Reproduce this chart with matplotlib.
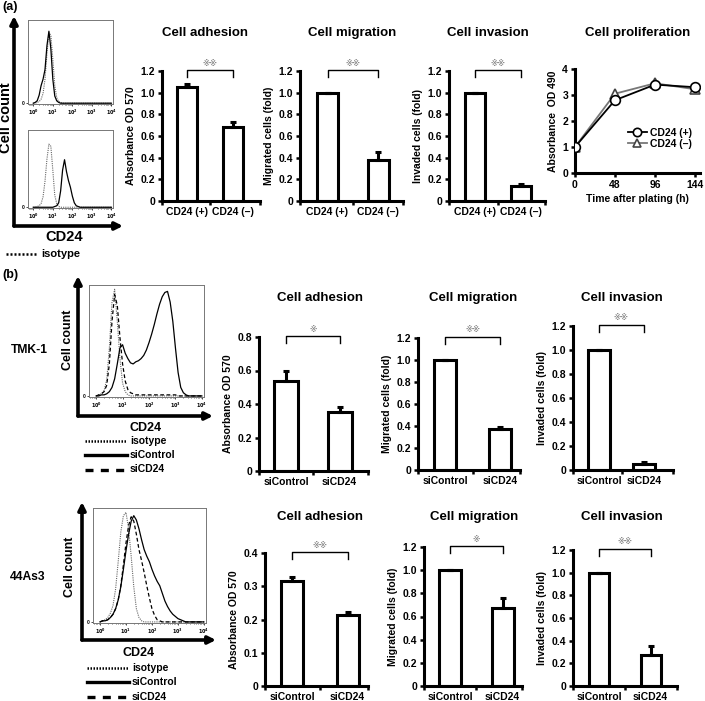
import numpy as np
import matplotlib
matplotlib.use('Agg')
import matplotlib.pyplot as plt

plt.rcParams['font.family'] = ['Liberation Sans', 'DejaVu Sans']
plt.rcParams['font.weight'] = 'bold'
plt.rcParams['axes.labelweight'] = 'bold'

# ---------------- data ----------------
# flow cytometry histograms (x = log10 fluorescence, 0..4 step 0.1)
logx = np.round(np.arange(0, 4.01, 0.1), 1)
a_neg_iso = [0, 0, 1, 2, 5, 12, 30, 62, 88, 85, 55, 22, 7, 2, 1] + [0] * 26
a_neg_cd24 = [0, 1, 3, 10, 22, 30, 42, 72, 90, 68, 30, 9, 3, 1, 0] + [0] * 26
a_pos_iso = [0, 0, 1, 2, 5, 14, 35, 65, 85, 82, 50, 16, 5, 1, 0] + [0] * 26
a_pos_cd24 = [0] * 11 + [1, 2, 6, 22, 50, 64, 48, 36, 27, 15, 6, 2, 1] + [0] * 17

tmk_iso = [0, 1, 2, 5, 15, 45, 88, 100, 70, 35, 12, 4, 1] + [0] * 28
tmk_sicd24 = [0, 1, 2, 4, 10, 30, 70, 95, 85, 55, 30, 14, 6, 3, 2] + [1] * 16 + [0] * 10
tmk_sictrl = [0, 0, 1, 1, 2, 4, 8, 16, 30, 45, 48, 40, 35, 31, 30, 32, 33, 35, 38, 43,
              50, 58, 67, 77, 86, 93, 97, 98, 88, 70, 45, 22, 8, 3, 1] + [0] * 6

as3_iso = [0, 1, 2, 4, 8, 15, 30, 55, 82, 97, 100, 85, 60, 32, 12, 4, 1] + [0] * 24
as3_sictrl = [0, 1, 1, 2, 4, 7, 12, 20, 32, 48, 65, 80, 92, 97, 93, 85, 75, 66, 60, 55,
              48, 42, 37, 33, 26, 19, 14, 10, 7, 5, 3, 2, 1] + [0] * 8
as3_sicd24 = [0, 1, 1, 2, 4, 7, 12, 20, 33, 52, 72, 88, 96, 92, 80, 66, 56, 45, 33, 22,
              12, 6, 2, 1] + [0] * 17

flow_ticks = ['$10^0$', '$10^1$', '$10^2$', '$10^3$', '$10^4$']

# bar charts
cats_a = ['CD24 (+)', 'CD24 (\u2013)']
cats_b = ['siControl', 'siCD24']

a_adh = [1.05, 0.68];   a_adh_err = [0.03, 0.05]
a_mig = [1.00, 0.38];   a_mig_err = [0.0, 0.07]
a_inv = [1.00, 0.14];   a_inv_err = [0.0, 0.015]

tmk_adh = [0.54, 0.355]; tmk_adh_err = [0.06, 0.025]
tmk_mig = [1.00, 0.37];  tmk_mig_err = [0.0, 0.02]
tmk_inv = [1.00, 0.05];  tmk_inv_err = [0.0, 0.02]

as3_adh = [0.315, 0.213]; as3_adh_err = [0.012, 0.01]
as3_mig = [1.00, 0.67];   as3_mig_err = [0.0, 0.09]
as3_inv = [1.00, 0.27];   as3_inv_err = [0.0, 0.08]

# proliferation
times = [0, 48, 96, 144]
prol_pos = [1.0, 2.8, 3.4, 3.3]
prol_neg = [1.0, 3.05, 3.45, 3.22]

# ---------------- layout helpers ----------------
W, H = 705, 701
fig = plt.figure(figsize=(W / 100, H / 100), dpi=100)


def ax_px(l, t, r, b):
    return fig.add_axes([l / W, 1 - b / H, (r - l) / W, (b - t) / H])


ov = ax_px(0, 0, W, H)
ov.set_xlim(0, W)
ov.set_ylim(H, 0)
ov.axis('off')


def txt(x, y, s, size, **kw):
    ov.text(x, y, s, fontsize=size, fontweight='bold', ha=kw.pop('ha', 'center'),
            va=kw.pop('va', 'center'), **kw)


def arrow(x0, y0, x1, y1):
    ov.annotate('', xy=(x1, y1), xytext=(x0, y0),
                arrowprops=dict(arrowstyle='-|>', lw=2.6, color='black',
                                mutation_scale=11, shrinkA=0, shrinkB=0))


def flow(box, curves):
    ax = ax_px(*box)
    xs = 10.0 ** logx
    for y, ls, col, lw in curves:
        ax.plot(xs, y, ls=ls, color=col, lw=lw)
    ax.set_xscale('log')
    ax.set_xlim(10 ** -0.27, 10 ** 4.08)
    ax.set_ylim(-1, 104)
    ax.set_xticks([1, 10, 100, 1000, 10000])
    ax.set_xticklabels(flow_ticks)
    ax.set_yticks([0])
    ax.set_yticklabels(['0'])
    ax.tick_params(labelsize=3.5, length=1.5, width=0.5, pad=1)
    ax.tick_params(which='minor', length=1, width=0.4)
    for s in ax.spines.values():
        s.set_linewidth(0.7)
        s.set_color('#777777')
    return ax


def bar_panel(box, centers, barw, vals, errs, cats, ymax, yticks, ylabel, sig, title, tx, ty):
    l, t, r, b = box
    ax = ax_px(l, t, r, b)
    c1, c2 = centers
    u = c2 - c1
    x0, x1 = -(c1 - l) / u, (r - c1) / u
    ax.set_xlim(x0, x1)
    ax.set_ylim(0, ymax)
    x = np.arange(len(vals))
    ax.bar(x, vals, width=barw / u, color='white', edgecolor='black', linewidth=2.2, zorder=2)
    ax.errorbar(x, vals, yerr=[np.zeros(len(vals)), errs], fmt='none', ecolor='black',
                elinewidth=2.2, capsize=2.5, capthick=2.2, zorder=3)
    for s in ['top', 'right']:
        ax.spines[s].set_visible(False)
    for s in ['left', 'bottom']:
        ax.spines[s].set_linewidth(2.2)
    ax.set_yticks(yticks)
    ax.set_yticklabels(['0' if v == 0 else f'{v:.1f}' for v in yticks])
    ax.set_xticks(x)
    ax.set_xticklabels(cats)
    ax.set_xticks([x0, 0.5, x1], minor=True)
    ax.tick_params(axis='x', which='major', length=0, labelsize=7.5, pad=4)
    ax.tick_params(axis='x', which='minor', length=3, width=1.8, direction='out')
    ax.tick_params(axis='y', length=3, width=1.8, labelsize=7.5, pad=2)
    ax.set_ylabel(ylabel, fontsize=7.5, labelpad=3)
    # significance bracket
    hpx = b - t
    tr = ax.get_xaxis_transform()
    ytop = 1 + 1.0 / hpx
    yleg = ytop - 7.0 / hpx
    ax.plot([0, 0, 1, 1], [yleg, ytop, ytop, yleg], color='black', lw=1.0,
            transform=tr, clip_on=False)
    ax.text(0.5, ytop + 7.0 / hpx, sig, transform=tr, ha='center', va='center',
            fontsize=5.5, color='#888888', family='DejaVu Sans')
    txt(tx, ty, title, 9.5)
    return ax


# ---------------- panel (a) ----------------
txt(2, 7, '(a)', 9, ha='left')
arrow(14, 226, 14, 16)
arrow(14, 226, 123, 226)
txt(6, 118, 'Cell count', 10.5, rotation=90)
txt(64, 237, 'CD24', 10.5)
ov.plot([6, 38], [254, 254], color='black', lw=1.8, ls=(0, (0.8, 0.8)))
txt(41, 254, 'isotype', 8, ha='left')

flow((28, 20, 113, 104), [(a_neg_iso, (0, (1, 1)), '#666666', 0.8),
                          (a_neg_cd24, '-', 'black', 0.9)])
flow((28, 130, 113, 208), [(a_pos_iso, (0, (1, 1)), '#666666', 0.8),
                           (a_pos_cd24, '-', 'black', 0.9)])
txt(110, 30, 'CD24 (\u2013)', 8, ha='right')
txt(110, 141, 'CD24 (+)', 8, ha='right')

SIG2 = '\u203b\u203b'
SIG1 = '\u203b'
bar_panel((162, 71, 260, 201), (187, 233), 20, a_adh, a_adh_err, cats_a, 1.2,
          [0, 0.2, 0.4, 0.6, 0.8, 1.0, 1.2], 'Absorbance OD 570', SIG2, 'Cell adhesion', 205, 33)
bar_panel((300, 71, 403, 201), (327.5, 378), 21, a_mig, a_mig_err, cats_a, 1.2,
          [0, 0.2, 0.4, 0.6, 0.8, 1.0, 1.2], 'Migrated cells (fold)', SIG2, 'Cell migration', 352, 33)
bar_panel((449, 71, 545, 201), (475, 521), 20, a_inv, a_inv_err, cats_a, 1.2,
          [0, 0.2, 0.4, 0.6, 0.8, 1.0, 1.2], 'Invaded cells (fold)', SIG2, 'Cell invasion', 488, 33)

# proliferation
pax = ax_px(575, 69, 700, 173)
pax.plot(times, prol_pos, color='black', lw=1.3, marker='o', ms=7, mfc='white',
         mec='black', mew=1.2, label='CD24 (+)', zorder=3)
pax.plot(times, prol_neg, color='#777777', lw=1.3, marker='^', ms=7, mfc='white',
         mec='#444444', mew=1.2, label='CD24 (\u2013)', zorder=2)
pax.set_xlim(0, 150)
pax.set_ylim(0, 4)
pax.set_xticks(times)
pax.set_yticks([0, 1, 2, 3, 4])
for s in ['top', 'right']:
    pax.spines[s].set_visible(False)
for s in ['left', 'bottom']:
    pax.spines[s].set_linewidth(2.2)
pax.tick_params(length=3, width=1.8, labelsize=7.5, pad=2)
pax.set_ylabel('Absorbance  OD 490', fontsize=7.5, labelpad=3)
pax.set_xlabel('Time after plating (h)', fontsize=7.5, labelpad=3)
leg = pax.legend(loc='upper left', bbox_to_anchor=((628 - 575) / 125, (173 - 128) / 104),
                 frameon=False, fontsize=7.5, handlelength=1.8, handletextpad=0.3,
                 labelspacing=0.1, borderpad=0, borderaxespad=0)
for lh in leg.legend_handles:
    lh.set_markersize(6)
txt(638, 33, 'Cell proliferation', 9.5)

# ---------------- panel (b) ----------------
txt(2, 275, '(b)', 9, ha='left')


def flow_legend(x0, y0):
    ov.plot([x0, x0 + 42], [y0, y0], color='black', lw=1.8, ls=(0, (0.6, 0.6)))
    ov.plot([x0, x0 + 42], [y0 + 14, y0 + 14], color='black', lw=2.4, ls='-')
    ov.plot([x0, x0 + 42], [y0 + 28.5, y0 + 28.5], color='black', lw=2.4, ls=(0, (2.4, 2.2)))
    txt(x0 + 45, y0, 'isotype', 7.5, ha='left')
    txt(x0 + 45, y0 + 14, 'siControl', 7.5, ha='left')
    txt(x0 + 45, y0 + 28.5, 'siCD24', 7.5, ha='left')


# TMK-1 row
txt(29, 350, 'TMK-1', 8.7)
arrow(78, 416, 78, 276)
arrow(78, 416, 213, 416)
txt(68, 340, 'Cell count', 9, rotation=90)
txt(146, 428, 'CD24', 9)
flow((89, 285, 204, 397), [(tmk_iso, (0, (1, 1)), '#666666', 0.8),
                           (tmk_sicd24, (0, (3, 2)), 'black', 0.9),
                           (tmk_sictrl, '-', 'black', 0.9)])
flow_legend(85, 441)

bar_panel((259, 337, 368, 471), (286, 339.5), 24, tmk_adh, tmk_adh_err, cats_b, 0.8,
          [0, 0.2, 0.4, 0.6, 0.8], 'Absorbance OD 570', SIG1, 'Cell adhesion', 320, 298)
bar_panel((418, 338, 520, 470), (445, 500), 22, tmk_mig, tmk_mig_err, cats_b, 1.2,
          [0, 0.2, 0.4, 0.6, 0.8, 1.0, 1.2], 'Migrated cells (fold)', SIG2, 'Cell migration', 473, 298)
bar_panel((573, 326, 673, 470), (599, 644), 22, tmk_inv, tmk_inv_err, cats_b, 1.2,
          [0, 0.2, 0.4, 0.6, 0.8, 1.0, 1.2], 'Invaded cells (fold)', SIG2, 'Cell invasion', 622, 298)

# 44As3 row
txt(28, 577, '44As3', 8.7)
arrow(82, 640, 82, 502)
arrow(82, 640, 216, 640)
txt(70, 567, 'Cell count', 9, rotation=90)
txt(139, 653, 'CD24', 9)
flow((93, 508, 206, 623), [(as3_iso, (0, (1, 1)), '#666666', 0.8),
                           (as3_sicd24, (0, (3, 2)), 'black', 0.9),
                           (as3_sictrl, '-', 'black', 0.9)])
flow_legend(87, 668)

bar_panel((265, 553, 368, 686), (292, 347.5), 22, as3_adh, as3_adh_err, cats_b, 0.4,
          [0, 0.1, 0.2, 0.3, 0.4], 'Absorbance OD 570', SIG2, 'Cell adhesion', 320, 517)
bar_panel((424, 547, 522, 686), (450, 502.5), 22, as3_mig, as3_mig_err, cats_b, 1.2,
          [0, 0.2, 0.4, 0.6, 0.8, 1.0, 1.2], 'Migrated cells (fold)', SIG1, 'Cell migration', 474, 517)
bar_panel((573, 550, 677, 686), (599, 650.5), 20, as3_inv, as3_inv_err, cats_b, 1.2,
          [0, 0.2, 0.4, 0.6, 0.8, 1.0, 1.2], 'Invaded cells (fold)', SIG2, 'Cell invasion', 622, 517)

fig.savefig('out.png', dpi=100)
